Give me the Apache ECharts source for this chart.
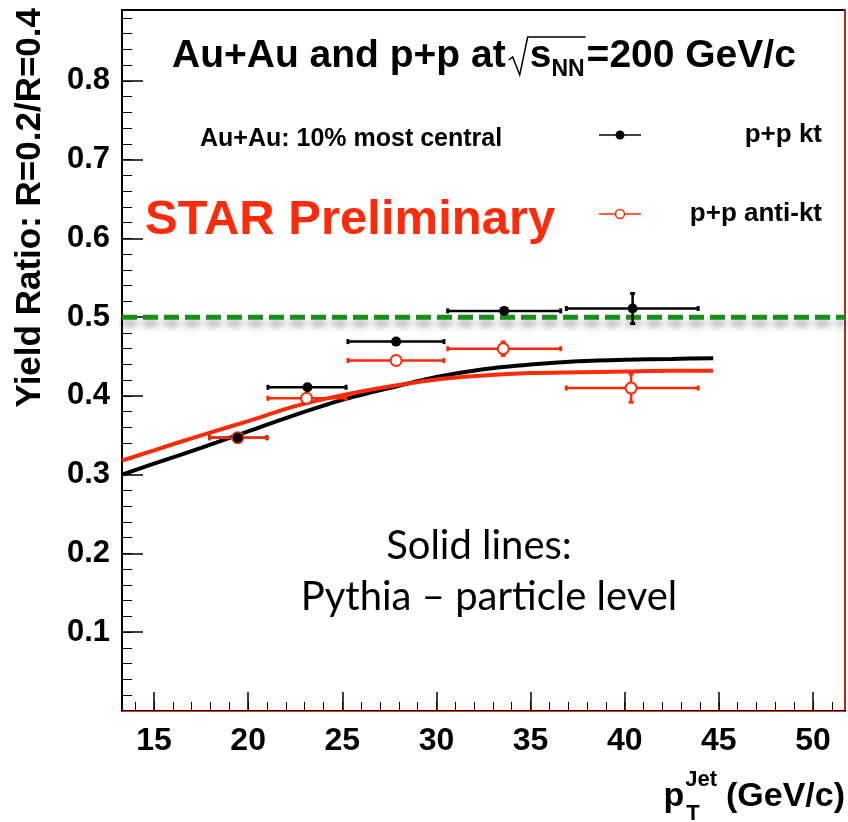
<!DOCTYPE html>
<html><head><meta charset="utf-8">
<script src="https://cdn.jsdelivr.net/npm/echarts@6/dist/echarts.min.js"></script>
<style>html,body{margin:0;padding:0;background:#fff}#c{width:848px;height:822px}</style>
</head><body><div id="c"></div>
<script>
// ---------------- data ----------------
const binCenterKt = [19.45, 23.15, 27.86, 33.6, 40.42];
const ratioKt     = [0.347, 0.411, 0.469, 0.508, 0.511];
const binLowKt    = [17.95, 21.05, 25.3, 30.6, 36.9];
const binHighKt   = [21.0, 25.2, 30.4, 36.6, 43.9];
const errKt       = [0.003, 0.004, 0.004, 0.007, 0.019];

const binCenterAkt = [19.45, 23.1, 27.86, 33.55, 40.34];
const ratioAkt     = [0.347, 0.397, 0.445, 0.460, 0.410];
const binLowAkt    = [17.95, 21.05, 25.3, 30.6, 36.9];
const binHighAkt   = [21.0, 25.2, 30.4, 36.6, 43.9];
const errAkt       = [0.003, 0.004, 0.004, 0.0085, 0.018];

const pythiaPt  = [13.3, 15, 17.5, 20, 22.5, 25, 27.5, 30, 32.5, 35, 37.5, 40, 42.5, 44.7];
const pythiaKt  = [0.300, 0.314, 0.334, 0.355, 0.376, 0.395, 0.410, 0.424, 0.434, 0.440, 0.444, 0.446, 0.447, 0.448];
const pythiaAkt = [0.318, 0.331, 0.350, 0.368, 0.387, 0.401, 0.412, 0.421, 0.426, 0.429, 0.430, 0.431, 0.432, 0.432];

const referenceRatio = 0.5;
const xRange = [13.3, 51.7];
const yRange = [0, 0.89];
const xMajorTicks = [15, 20, 25, 30, 35, 40, 45, 50];
const xMinorTicks = [14,15,16,17,18,19,20,21,22,23,24,25,26,27,28,29,30,31,32,33,34,35,36,37,38,39,40,41,42,43,44,45,46,47,48,49,50,51];
const yMajorTicks = [0.1, 0.2, 0.3, 0.4, 0.5, 0.6, 0.7, 0.8];
const yMinorTicks = [0.02,0.04,0.06,0.08,0.1,0.12,0.14,0.16,0.18,0.2,0.22,0.24,0.26,0.28,0.3,0.32,0.34,0.36,0.38,0.4,0.42,0.44,0.46,0.48,0.5,0.52,0.54,0.56,0.58,0.6,0.62,0.64,0.66,0.68,0.7,0.72,0.74,0.76,0.78,0.8,0.82,0.84,0.86,0.88];

// ---------------- helpers ----------------
const RED = '#ff2a0a';
const mctx = document.createElement('canvas').getContext('2d');
function tw(text, font) { mctx.font = font; return mctx.measureText(text).width; }

function errData(c, v, lo, hi, e) { return c.map((x, i) => [x, v[i], lo[i], hi[i], e[i]]); }

function makeRender(color, hollow, drawMarker, drawBars) {
  return function (params, api) {
    const xc = api.value(0), y = api.value(1), xl = api.value(2), xh = api.value(3), e = api.value(4);
    const pC = api.coord([xc, y]), pL = api.coord([xl, y]), pH = api.coord([xh, y]);
    const pT = api.coord([xc, y + e]), pB = api.coord([xc, y - e]);
    const lw = 2.5, cap = 2.5, r = 5;
    const st = { stroke: color, lineWidth: lw };
    const ch = [];
    if (drawBars) {
      ch.push({ type: 'line', shape: { x1: pL[0], y1: pL[1], x2: pH[0], y2: pH[1] }, style: st });
      ch.push({ type: 'line', shape: { x1: pL[0], y1: pL[1] - cap, x2: pL[0], y2: pL[1] + cap }, style: { stroke: color, lineWidth: 3 } });
      ch.push({ type: 'line', shape: { x1: pH[0], y1: pH[1] - cap, x2: pH[0], y2: pH[1] + cap }, style: { stroke: color, lineWidth: 3 } });
      if (pC[1] - pT[1] > r + 1) {
        ch.push({ type: 'line', shape: { x1: pT[0], y1: pT[1], x2: pB[0], y2: pB[1] }, style: st });
        ch.push({ type: 'line', shape: { x1: pT[0] - cap, y1: pT[1], x2: pT[0] + cap, y2: pT[1] }, style: { stroke: color, lineWidth: 3 } });
        ch.push({ type: 'line', shape: { x1: pB[0] - cap, y1: pB[1], x2: pB[0] + cap, y2: pB[1] }, style: { stroke: color, lineWidth: 3 } });
      }
    }
    if (drawMarker) {
      ch.push({ type: 'circle', shape: { cx: pC[0], cy: pC[1], r: hollow ? 5.5 : 5 },
        style: hollow ? { fill: '#fff', stroke: color, lineWidth: 2 } : { fill: color } });
    }
    return { type: 'group', children: ch };
  };
}

// ---------------- chart ----------------
const chart = echarts.init(document.getElementById('c'), null, { renderer: 'canvas' });

const G = { left: 122, top: 10, width: 723, height: 701 };
const B = 'bold ';
const FT = '"Liberation Sans", Arial, sans-serif';
const FN = '"Liberation Sans Narrow", "Liberation Sans", Arial, sans-serif';
const FC = '40px Lato, "Open Sans", sans-serif';

// title pieces
const fTitle = B + '39px ' + FT, fSub = B + '23px ' + FT;
const tx0 = 172, tyc = 56;
const w1 = tw('Au+Au and p+p at', fTitle);
const rx = tx0 + w1 + 3;
const sx = rx + 21;
const ws = tw('s', fTitle);
const nnx = sx + ws;
const wnn = tw('NN', fSub);
const eqx = nnx + wnn + 2;
// x-axis title pieces
const fAx = B + '34px ' + FT, fAxS = B + '22px ' + FT;
const wGev = tw('(GeV/c)', fAx);
const jetRight = 845 - wGev - 9;
const wJet = tw('Jet', fAxS);
const jetLeft = jetRight - wJet;

const graphics = [
  { type: 'text', x: tx0, y: tyc, style: { text: 'Au+Au and p+p at', font: fTitle, fill: '#000', textVerticalAlign: 'middle' } },
  { type: 'polyline', shape: { points: [[rx, tyc + 4], [rx + 4, tyc + 1], [rx + 11, tyc + 19], [rx + 19, tyc - 19], [eqx - 1, tyc - 19]] }, style: { stroke: '#000', lineWidth: 1.5, fill: null } },
  { type: 'text', x: sx, y: tyc, style: { text: 's', font: fTitle, fill: '#000', textVerticalAlign: 'middle' } },
  { type: 'text', x: nnx, y: tyc + 14, style: { text: 'NN', font: fSub, fill: '#000', textVerticalAlign: 'middle' } },
  { type: 'text', x: eqx, y: tyc, style: { text: '=200 GeV/c', font: fTitle, fill: '#000', textVerticalAlign: 'middle' } },

  { type: 'text', x: 200, y: 139, style: { text: 'Au+Au: 10% most central', font: B + '25px ' + FT, fill: '#000', textVerticalAlign: 'middle' } },
  { type: 'text', x: 145, y: 220, style: { text: 'STAR Preliminary', font: B + '49px ' + FT, fill: RED, textVerticalAlign: 'middle' } },

  // legend
  { type: 'line', shape: { x1: 599, y1: 135, x2: 641, y2: 135 }, style: { stroke: '#000', lineWidth: 1.5 } },
  { type: 'circle', shape: { cx: 620, cy: 135, r: 4.5 }, style: { fill: '#000' } },
  { type: 'text', x: 822, y: 135, style: { text: 'p+p kt', font: B + '26px ' + FT, fill: '#000', textAlign: 'right', textVerticalAlign: 'middle' } },
  { type: 'line', shape: { x1: 599, y1: 214, x2: 641, y2: 214 }, style: { stroke: RED, lineWidth: 1.5 } },
  { type: 'circle', shape: { cx: 620, cy: 214, r: 4.5 }, style: { fill: '#fff', stroke: RED, lineWidth: 1.5 } },
  { type: 'text', x: 822, y: 214, style: { text: 'p+p anti-kt', font: B + '26px ' + FT, fill: '#000', textAlign: 'right', textVerticalAlign: 'middle' } },

  // annotation
  { type: 'text', x: 479, y: 546, style: { text: 'Solid lines:', font: FC, fill: '#000', textAlign: 'center', textVerticalAlign: 'middle' } },
  { type: 'text', x: 489, y: 597, style: { text: 'Pythia \u2013 particle level', font: FC, fill: '#000', textAlign: 'center', textVerticalAlign: 'middle' } },

  // y-axis title
  { type: 'text', x: 30, y: 8, rotation: Math.PI / 2, style: { text: 'Yield Ratio: R=0.2/R=0.4', font: B + '35px ' + FT, fill: '#000', textAlign: 'right', textVerticalAlign: 'middle' } },

  // x-axis title
  { type: 'text', x: jetLeft - 1, y: 797, style: { text: 'p', font: fAx, fill: '#000', textAlign: 'right', textVerticalAlign: 'middle' } },
  { type: 'text', x: jetLeft, y: 780, style: { text: 'Jet', font: fAxS, fill: '#000', textVerticalAlign: 'middle' } },
  { type: 'text', x: jetLeft + 1, y: 814, style: { text: 'T', font: fAxS, fill: '#000', textVerticalAlign: 'middle' } },
  { type: 'text', x: 845, y: 797, style: { text: '(GeV/c)', font: fAx, fill: '#000', textAlign: 'right', textVerticalAlign: 'middle' } }
];

const option = {
  animation: false,
  backgroundColor: '#fff',
  grid: { left: G.left, top: G.top, width: G.width, height: G.height, show: true, borderColor: '#000', borderWidth: 2, backgroundColor: 'transparent' },
  xAxis: [
    { type: 'value', min: xRange[0], max: xRange[1], position: 'bottom',
      axisLine: { show: true, lineStyle: { color: '#000', width: 2 } },
      axisTick: { show: true, inside: true, length: 19, customValues: xMajorTicks, lineStyle: { color: '#000', width: 1.5 } },
      axisLabel: { show: true, customValues: xMajorTicks, margin: 14, color: '#000', fontWeight: 'bold', fontSize: 32, fontFamily: FN },
      splitLine: { show: false } },
    { type: 'value', min: xRange[0], max: xRange[1], position: 'bottom',
      axisLine: { show: false },
      axisTick: { show: true, inside: true, length: 9, customValues: xMinorTicks, lineStyle: { color: '#000', width: 1 } },
      axisLabel: { show: false }, splitLine: { show: false } },
    { type: 'value', min: xRange[0], max: xRange[1], position: 'bottom', offset: 2,
      axisLine: { show: true, lineStyle: { color: RED, width: 1 } },
      axisTick: { show: false }, axisLabel: { show: false }, splitLine: { show: false } }
  ],
  yAxis: [
    { type: 'value', min: yRange[0], max: yRange[1], position: 'left',
      axisLine: { show: true, lineStyle: { color: '#000', width: 2 } },
      axisTick: { show: true, inside: true, length: 21, customValues: yMajorTicks, lineStyle: { color: '#000', width: 1.5 } },
      axisLabel: { show: true, customValues: yMajorTicks, margin: 12, color: '#000', fontWeight: 'bold', fontSize: 31, fontFamily: FT,
        formatter: v => v.toFixed(1) },
      splitLine: { show: false } },
    { type: 'value', min: yRange[0], max: yRange[1], position: 'left',
      axisLine: { show: false },
      axisTick: { show: true, inside: true, length: 10, customValues: yMinorTicks, lineStyle: { color: '#000', width: 1 } },
      axisLabel: { show: false }, splitLine: { show: false } },
    { type: 'value', min: yRange[0], max: yRange[1], position: 'right',
      axisLine: { show: true, lineStyle: { color: '#c0281a', width: 2 } },
      axisTick: { show: false }, axisLabel: { show: false }, splitLine: { show: false } }
  ],
  graphic: graphics,
  series: [
    { type: 'line', name: 'reference', data: [[xRange[0], referenceRatio], [xRange[1], referenceRatio]], showSymbol: false, z: 2,
      lineStyle: { color: '#16901a', width: 5, type: [15, 6], shadowBlur: 7, shadowColor: 'rgba(0,0,0,0.4)', shadowOffsetY: 6 } },
    { type: 'line', name: 'Pythia kt', data: pythiaPt.map((x, i) => [x, pythiaKt[i]]), smooth: 0.3, showSymbol: false, z: 3,
      lineStyle: { color: '#000', width: 4 } },
    { type: 'line', name: 'Pythia anti-kt', data: pythiaPt.map((x, i) => [x, pythiaAkt[i]]), smooth: 0.3, showSymbol: false, z: 3,
      lineStyle: { color: RED, width: 4 } },
    { type: 'custom', name: 'p+p kt bars', data: errData(binCenterKt, ratioKt, binLowKt, binHighKt, errKt), z: 4,
      renderItem: makeRender('#000', false, false, true), encode: { x: 0, y: 1 } },
    { type: 'custom', name: 'p+p anti-kt', data: errData(binCenterAkt, ratioAkt, binLowAkt, binHighAkt, errAkt), z: 5,
      renderItem: makeRender(RED, true, true, true), encode: { x: 0, y: 1 } },
    { type: 'custom', name: 'p+p kt', data: errData(binCenterKt, ratioKt, binLowKt, binHighKt, errKt), z: 6,
      renderItem: makeRender('#000', false, true, false), encode: { x: 0, y: 1 } }
  ]
};
chart.setOption(option);
</script>
</body></html>
